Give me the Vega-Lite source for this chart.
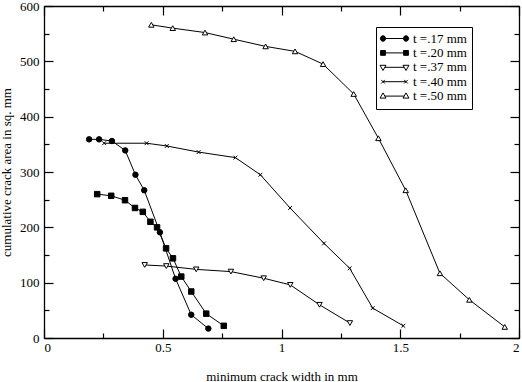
{
  "$schema": "https://vega.github.io/schema/vega-lite/v6.json",
  "width": 475,
  "height": 332,
  "autosize": {"type": "none"},
  "padding": {"left": 44, "top": 6, "right": 3, "bottom": 44},
  "config": {
    "view": {"stroke": "black", "strokeWidth": 1},
    "font": "Liberation Serif",
    "axis": {
      "domain": false,
      "grid": false,
      "ticks": true,
      "zindex": 1,
      "labelFont": "Liberation Serif",
      "labelFontSize": 13,
      "labelColor": "black",
      "tickColor": "black",
      "tickWidth": 1.2,
      "titleFont": "Liberation Serif",
      "titleFontSize": 13,
      "titleFontWeight": "normal",
      "titleColor": "black"
    }
  },
  "data": {
    "values": [
      {"t": "t =.17 mm", "w": 0.19, "a": 359},
      {"t": "t =.17 mm", "w": 0.232, "a": 359},
      {"t": "t =.17 mm", "w": 0.286, "a": 356},
      {"t": "t =.17 mm", "w": 0.342, "a": 339},
      {"t": "t =.17 mm", "w": 0.385, "a": 295},
      {"t": "t =.17 mm", "w": 0.422, "a": 267},
      {"t": "t =.17 mm", "w": 0.488, "a": 191},
      {"t": "t =.17 mm", "w": 0.554, "a": 107},
      {"t": "t =.17 mm", "w": 0.62, "a": 42},
      {"t": "t =.17 mm", "w": 0.692, "a": 17},
      {"t": "t =.20 mm", "w": 0.224, "a": 260},
      {"t": "t =.20 mm", "w": 0.283, "a": 257},
      {"t": "t =.20 mm", "w": 0.341, "a": 249},
      {"t": "t =.20 mm", "w": 0.383, "a": 235},
      {"t": "t =.20 mm", "w": 0.416, "a": 228},
      {"t": "t =.20 mm", "w": 0.448, "a": 210},
      {"t": "t =.20 mm", "w": 0.476, "a": 200},
      {"t": "t =.20 mm", "w": 0.514, "a": 162},
      {"t": "t =.20 mm", "w": 0.543, "a": 144},
      {"t": "t =.20 mm", "w": 0.578, "a": 111},
      {"t": "t =.20 mm", "w": 0.62, "a": 84},
      {"t": "t =.20 mm", "w": 0.683, "a": 44},
      {"t": "t =.20 mm", "w": 0.757, "a": 22},
      {"t": "t =.37 mm", "w": 0.424, "a": 132},
      {"t": "t =.37 mm", "w": 0.515, "a": 130},
      {"t": "t =.37 mm", "w": 0.641, "a": 124},
      {"t": "t =.37 mm", "w": 0.787, "a": 120},
      {"t": "t =.37 mm", "w": 0.925, "a": 108},
      {"t": "t =.37 mm", "w": 1.037, "a": 96},
      {"t": "t =.37 mm", "w": 1.16, "a": 60},
      {"t": "t =.37 mm", "w": 1.288, "a": 27},
      {"t": "t =.40 mm", "w": 0.253, "a": 352},
      {"t": "t =.40 mm", "w": 0.432, "a": 352},
      {"t": "t =.40 mm", "w": 0.517, "a": 347},
      {"t": "t =.40 mm", "w": 0.651, "a": 336},
      {"t": "t =.40 mm", "w": 0.806, "a": 326},
      {"t": "t =.40 mm", "w": 0.911, "a": 295},
      {"t": "t =.40 mm", "w": 1.036, "a": 235},
      {"t": "t =.40 mm", "w": 1.179, "a": 171},
      {"t": "t =.40 mm", "w": 1.287, "a": 126},
      {"t": "t =.40 mm", "w": 1.384, "a": 54},
      {"t": "t =.40 mm", "w": 1.513, "a": 22},
      {"t": "t =.50 mm", "w": 0.452, "a": 566},
      {"t": "t =.50 mm", "w": 0.542, "a": 560},
      {"t": "t =.50 mm", "w": 0.678, "a": 552},
      {"t": "t =.50 mm", "w": 0.799, "a": 540},
      {"t": "t =.50 mm", "w": 0.933, "a": 527},
      {"t": "t =.50 mm", "w": 1.057, "a": 518},
      {"t": "t =.50 mm", "w": 1.175, "a": 495},
      {"t": "t =.50 mm", "w": 1.304, "a": 441},
      {"t": "t =.50 mm", "w": 1.408, "a": 361},
      {"t": "t =.50 mm", "w": 1.523, "a": 267},
      {"t": "t =.50 mm", "w": 1.667, "a": 117},
      {"t": "t =.50 mm", "w": 1.791, "a": 69},
      {"t": "t =.50 mm", "w": 1.94, "a": 20}
    ]
  },
  "resolve": {
    "axis": {"x": "independent", "y": "independent"},
    "scale": {"shape": "independent", "fill": "independent", "stroke": "independent"},
    "legend": {"shape": "independent", "fill": "independent", "stroke": "independent"}
  },
  "layer": [
    {
      "mark": {"type": "line", "color": "black", "strokeWidth": 1},
      "encoding": {
        "x": {"field": "w", "type": "quantitative", "scale": {"domain": [0, 2], "nice": false},
          "axis": {"orient": "bottom", "offset": -9, "zindex": 1, "values": [0, 0.5, 1, 1.5, 2], "format": "~g", "tickSize": 9, "labelPadding": 3, "title": "minimum crack width in mm", "titlePadding": 16}},
        "y": {"field": "a", "type": "quantitative", "scale": {"domain": [0, 600], "nice": false},
          "axis": {"orient": "left", "offset": -9, "zindex": 1, "values": [0, 100, 200, 300, 400, 500, 600], "tickSize": 9, "labelPadding": 5, "title": "cumulative crack area in sq. mm", "titlePadding": 6}},
        "detail": {"field": "t"}
      }
    },
    {
      "mark": {"type": "point", "filled": true, "stroke": "black", "strokeWidth": 1, "opacity": 1, "size": 30},
      "encoding": {
        "x": {"field": "w", "type": "quantitative",
          "axis": {"orient": "bottom", "offset": -5, "zindex": 1, "values": [0.25, 0.75, 1.25, 1.75], "tickSize": 5, "labels": false, "title": null}},
        "y": {"field": "a", "type": "quantitative",
          "axis": {"orient": "left", "offset": -5, "zindex": 1, "values": [50, 150, 250, 350, 450, 550], "tickSize": 5, "labels": false, "title": null}},
        "shape": {"field": "t", "type": "nominal", "legend": null,
          "scale": {"domain": ["t =.17 mm", "t =.20 mm", "t =.37 mm", "t =.40 mm", "t =.50 mm"],
            "range": ["circle", "square", "triangle-down", "M-0.7,-0.7L0.7,0.7M-0.7,0.7L0.7,-0.7", "triangle-up"]}},
        "fill": {"field": "t", "type": "nominal", "legend": null,
          "scale": {"domain": ["t =.17 mm", "t =.20 mm", "t =.37 mm", "t =.40 mm", "t =.50 mm"],
            "range": ["black", "black", "white", "black", "white"]}}
      }
    },
    {
      "mark": {"type": "point", "opacity": 0, "strokeWidth": 1},
      "encoding": {
        "x": {"field": "w", "type": "quantitative",
          "axis": {"orient": "top", "offset": -9, "zindex": 1, "values": [0, 0.5, 1, 1.5, 2], "tickSize": 9, "labels": false, "title": null}},
        "y": {"field": "a", "type": "quantitative",
          "axis": {"orient": "right", "offset": -9, "zindex": 1, "values": [0, 100, 200, 300, 400, 500, 600], "tickSize": 9, "labels": false, "title": null}},
        "shape": {"field": "t", "type": "nominal",
          "scale": {"domain": ["t =.17 mm", "t =.20 mm", "t =.37 mm", "t =.40 mm", "t =.50 mm"],
            "range": [
              "M-0.36,0L3.16,0M-0.36,0A0.54,0.54 0 1 1 -1.44,0A0.54,0.54 0 1 1 -0.36,0ZM4.24,0A0.54,0.54 0 1 1 3.16,0A0.54,0.54 0 1 1 4.24,0Z",
              "M-0.42,0L3.22,0M-1.38,-0.48H-0.42V0.48H-1.38ZM3.22,-0.48H4.18V0.48H3.22Z",
              "M-0.53,0L3.33,0M-1.5,-0.4L-0.3,-0.4L-0.9,0.64ZM3.1,-0.4L4.3,-0.4L3.7,0.64Z",
              "M-0.9,0L3.7,0M-1.26,-0.36L-0.54,0.36M-1.26,0.36L-0.54,-0.36M3.34,-0.36L4.06,0.36M3.34,0.36L4.06,-0.36",
              "M-0.53,0L3.33,0M-1.5,0.4L-0.3,0.4L-0.9,-0.64ZM3.1,0.4L4.3,0.4L3.7,-0.64Z"
            ]},
          "legend": {"title": null, "orient": "none", "legendX": 332, "legendY": 21, "zindex": 2, "strokeColor": "black", "fillColor": "white", "padding": 5, "labelFont": "Liberation Serif", "labelFontSize": 13, "labelColor": "black", "symbolSize": 100, "symbolOpacity": 1, "symbolStrokeWidth": 1, "labelOffset": 19, "rowPadding": 0.4}},
        "fill": {"field": "t", "type": "nominal",
          "scale": {"domain": ["t =.17 mm", "t =.20 mm", "t =.37 mm", "t =.40 mm", "t =.50 mm"],
            "range": ["black", "black", "white", "black", "white"]},
          "legend": {"title": null, "orient": "none", "legendX": 332, "legendY": 21, "zindex": 2, "strokeColor": "black", "fillColor": "white", "padding": 5, "labelFont": "Liberation Serif", "labelFontSize": 13, "labelColor": "black", "symbolSize": 100, "symbolOpacity": 1, "symbolStrokeWidth": 1, "labelOffset": 19, "rowPadding": 0.4}},
        "stroke": {"field": "t", "type": "nominal",
          "scale": {"domain": ["t =.17 mm", "t =.20 mm", "t =.37 mm", "t =.40 mm", "t =.50 mm"],
            "range": ["black", "black", "black", "black", "black"]},
          "legend": {"title": null, "orient": "none", "legendX": 332, "legendY": 21, "zindex": 2, "strokeColor": "black", "fillColor": "white", "padding": 5, "labelFont": "Liberation Serif", "labelFontSize": 13, "labelColor": "black", "symbolSize": 100, "symbolOpacity": 1, "symbolStrokeWidth": 1, "labelOffset": 19, "rowPadding": 0.4}}
      }
    },
    {
      "mark": {"type": "point", "opacity": 0},
      "encoding": {
        "x": {"field": "w", "type": "quantitative",
          "axis": {"orient": "top", "offset": -5, "zindex": 1, "values": [0.25, 0.75, 1.25, 1.75], "tickSize": 5, "labels": false, "title": null}},
        "y": {"field": "a", "type": "quantitative",
          "axis": {"orient": "right", "offset": -5, "zindex": 1, "values": [50, 150, 250, 350, 450, 550], "tickSize": 5, "labels": false, "title": null}}
      }
    },
    {
      "mark": {"type": "point", "opacity": 0},
      "encoding": {
        "x": {"field": "w", "type": "quantitative",
          "axis": {"orient": "bottom", "zindex": 1, "domain": true, "domainColor": "black", "domainWidth": 1.3, "ticks": false, "labels": false, "title": null}},
        "y": {"field": "a", "type": "quantitative",
          "axis": {"orient": "left", "zindex": 1, "domain": true, "domainColor": "black", "domainWidth": 1.3, "ticks": false, "labels": false, "title": null}}
      }
    },
    {
      "mark": {"type": "point", "opacity": 0},
      "encoding": {
        "x": {"field": "w", "type": "quantitative",
          "axis": {"orient": "top", "zindex": 1, "domain": true, "domainColor": "black", "domainWidth": 1.3, "ticks": false, "labels": false, "title": null}},
        "y": {"field": "a", "type": "quantitative",
          "axis": {"orient": "right", "zindex": 1, "domain": true, "domainColor": "black", "domainWidth": 1.3, "ticks": false, "labels": false, "title": null}}
      }
    }
  ]
}
